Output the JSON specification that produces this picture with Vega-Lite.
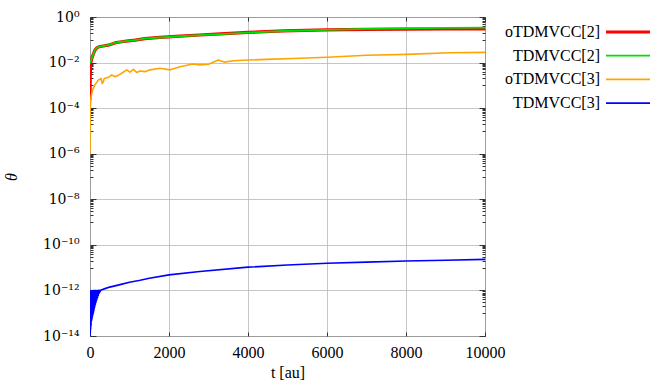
{
  "$schema": "https://vega.github.io/schema/vega-lite/v6.json",
  "autosize": "none",
  "padding": {"left": 90, "top": 17, "right": 179, "bottom": 52},
  "width": 395,
  "height": 319,
  "background": "white",
  "config": {
    "view": {"stroke": "#333", "strokeWidth": 1},
    "font": "Liberation Serif, Times New Roman, serif",
    "axis": {"labelFont": "Liberation Serif, Times New Roman, serif", "labelFontSize": 16, "labelColor": "black", "titleFont": "Liberation Serif, Times New Roman, serif", "titleFontSize": 16, "titleColor": "black", "titleFontWeight": "normal", "gridColor": "#b8b8b8", "gridWidth": 0.8, "domainColor": "#333", "tickColor": "#333"},
    "legend": {"labelFont": "Liberation Serif, Times New Roman, serif", "labelFontSize": 16, "labelColor": "black"}
  },
  "datasets": {
    "d": [
      {"s": "oTDMVCC[2]", "t": 0, "v": 2.3e-4},
      {"s": "oTDMVCC[2]", "t": 5, "v": 2e-3},
      {"s": "oTDMVCC[2]", "t": 15, "v": 8e-3},
      {"s": "oTDMVCC[2]", "t": 30, "v": 1.2e-2},
      {"s": "oTDMVCC[2]", "t": 60, "v": 1.8e-2},
      {"s": "oTDMVCC[2]", "t": 90, "v": 2.5e-2},
      {"s": "oTDMVCC[2]", "t": 125, "v": 3.5e-2},
      {"s": "oTDMVCC[2]", "t": 170, "v": 4.3e-2},
      {"s": "oTDMVCC[2]", "t": 210, "v": 4.8e-2},
      {"s": "oTDMVCC[2]", "t": 300, "v": 5.2e-2},
      {"s": "oTDMVCC[2]", "t": 460, "v": 5.8e-2},
      {"s": "oTDMVCC[2]", "t": 630, "v": 7.3e-2},
      {"s": "oTDMVCC[2]", "t": 800, "v": 8.2e-2},
      {"s": "oTDMVCC[2]", "t": 970, "v": 9.0e-2},
      {"s": "oTDMVCC[2]", "t": 1140, "v": 9.7e-2},
      {"s": "oTDMVCC[2]", "t": 1390, "v": 0.113},
      {"s": "oTDMVCC[2]", "t": 1770, "v": 0.128},
      {"s": "oTDMVCC[2]", "t": 2280, "v": 0.145},
      {"s": "oTDMVCC[2]", "t": 2780, "v": 0.162},
      {"s": "oTDMVCC[2]", "t": 3300, "v": 0.18},
      {"s": "oTDMVCC[2]", "t": 4000, "v": 0.21},
      {"s": "oTDMVCC[2]", "t": 4900, "v": 0.245},
      {"s": "oTDMVCC[2]", "t": 6000, "v": 0.27},
      {"s": "oTDMVCC[2]", "t": 7000, "v": 0.285},
      {"s": "oTDMVCC[2]", "t": 8000, "v": 0.295},
      {"s": "oTDMVCC[2]", "t": 9000, "v": 0.298},
      {"s": "oTDMVCC[2]", "t": 10000, "v": 0.30},

      {"s": "TDMVCC[2]", "t": 0, "v": 9.5e-3},
      {"s": "TDMVCC[2]", "t": 15, "v": 1.1e-2},
      {"s": "TDMVCC[2]", "t": 30, "v": 1.3e-2},
      {"s": "TDMVCC[2]", "t": 60, "v": 1.8e-2},
      {"s": "TDMVCC[2]", "t": 90, "v": 2.5e-2},
      {"s": "TDMVCC[2]", "t": 125, "v": 3.5e-2},
      {"s": "TDMVCC[2]", "t": 170, "v": 4.3e-2},
      {"s": "TDMVCC[2]", "t": 210, "v": 4.8e-2},
      {"s": "TDMVCC[2]", "t": 300, "v": 5.2e-2},
      {"s": "TDMVCC[2]", "t": 460, "v": 5.8e-2},
      {"s": "TDMVCC[2]", "t": 630, "v": 7.3e-2},
      {"s": "TDMVCC[2]", "t": 800, "v": 8.2e-2},
      {"s": "TDMVCC[2]", "t": 970, "v": 9.0e-2},
      {"s": "TDMVCC[2]", "t": 1140, "v": 9.7e-2},
      {"s": "TDMVCC[2]", "t": 1390, "v": 0.112},
      {"s": "TDMVCC[2]", "t": 1770, "v": 0.126},
      {"s": "TDMVCC[2]", "t": 2280, "v": 0.143},
      {"s": "TDMVCC[2]", "t": 2780, "v": 0.16},
      {"s": "TDMVCC[2]", "t": 3300, "v": 0.178},
      {"s": "TDMVCC[2]", "t": 4000, "v": 0.207},
      {"s": "TDMVCC[2]", "t": 4900, "v": 0.243},
      {"s": "TDMVCC[2]", "t": 6000, "v": 0.275},
      {"s": "TDMVCC[2]", "t": 7000, "v": 0.3},
      {"s": "TDMVCC[2]", "t": 8000, "v": 0.318},
      {"s": "TDMVCC[2]", "t": 9000, "v": 0.332},
      {"s": "TDMVCC[2]", "t": 10000, "v": 0.345},

      {"s": "oTDMVCC[3]", "t": 0, "v": 1e-6},
      {"s": "oTDMVCC[3]", "t": 5, "v": 1e-4},
      {"s": "oTDMVCC[3]", "t": 25, "v": 2.8e-4},
      {"s": "oTDMVCC[3]", "t": 60, "v": 6e-4},
      {"s": "oTDMVCC[3]", "t": 125, "v": 1.05e-3},
      {"s": "oTDMVCC[3]", "t": 210, "v": 1.7e-3},
      {"s": "oTDMVCC[3]", "t": 280, "v": 2.0e-3},
      {"s": "oTDMVCC[3]", "t": 310, "v": 1.2e-3},
      {"s": "oTDMVCC[3]", "t": 340, "v": 1.5e-3},
      {"s": "oTDMVCC[3]", "t": 360, "v": 2.0e-3},
      {"s": "oTDMVCC[3]", "t": 460, "v": 2.2e-3},
      {"s": "oTDMVCC[3]", "t": 550, "v": 2.9e-3},
      {"s": "oTDMVCC[3]", "t": 630, "v": 2.4e-3},
      {"s": "oTDMVCC[3]", "t": 720, "v": 2.8e-3},
      {"s": "oTDMVCC[3]", "t": 800, "v": 3.4e-3},
      {"s": "oTDMVCC[3]", "t": 930, "v": 4.8e-3},
      {"s": "oTDMVCC[3]", "t": 1010, "v": 3.8e-3},
      {"s": "oTDMVCC[3]", "t": 1100, "v": 5.0e-3},
      {"s": "oTDMVCC[3]", "t": 1180, "v": 3.7e-3},
      {"s": "oTDMVCC[3]", "t": 1270, "v": 4.3e-3},
      {"s": "oTDMVCC[3]", "t": 1390, "v": 4.0e-3},
      {"s": "oTDMVCC[3]", "t": 1520, "v": 4.8e-3},
      {"s": "oTDMVCC[3]", "t": 1770, "v": 5.6e-3},
      {"s": "oTDMVCC[3]", "t": 2030, "v": 4.8e-3},
      {"s": "oTDMVCC[3]", "t": 2280, "v": 6.6e-3},
      {"s": "oTDMVCC[3]", "t": 2600, "v": 8.7e-3},
      {"s": "oTDMVCC[3]", "t": 2780, "v": 7.9e-3},
      {"s": "oTDMVCC[3]", "t": 3000, "v": 8.5e-3},
      {"s": "oTDMVCC[3]", "t": 3250, "v": 1.29e-2},
      {"s": "oTDMVCC[3]", "t": 3400, "v": 1.05e-2},
      {"s": "oTDMVCC[3]", "t": 3630, "v": 1.2e-2},
      {"s": "oTDMVCC[3]", "t": 4000, "v": 1.29e-2},
      {"s": "oTDMVCC[3]", "t": 4470, "v": 1.38e-2},
      {"s": "oTDMVCC[3]", "t": 5320, "v": 1.55e-2},
      {"s": "oTDMVCC[3]", "t": 6000, "v": 1.7e-2},
      {"s": "oTDMVCC[3]", "t": 7000, "v": 2.1e-2},
      {"s": "oTDMVCC[3]", "t": 8000, "v": 2.3e-2},
      {"s": "oTDMVCC[3]", "t": 9110, "v": 2.7e-2},
      {"s": "oTDMVCC[3]", "t": 10000, "v": 2.8e-2},

      {"s": "TDMVCC[3]", "t": 0, "v": 1e-14},
      {"s": "TDMVCC[3]", "t": 4, "v": 9.5e-13},
      {"s": "TDMVCC[3]", "t": 8, "v": 1.4e-14},
      {"s": "TDMVCC[3]", "t": 12, "v": 9.5e-13},
      {"s": "TDMVCC[3]", "t": 16, "v": 2e-14},
      {"s": "TDMVCC[3]", "t": 20, "v": 9.5e-13},
      {"s": "TDMVCC[3]", "t": 26, "v": 2.8e-14},
      {"s": "TDMVCC[3]", "t": 32, "v": 9.6e-13},
      {"s": "TDMVCC[3]", "t": 38, "v": 4.5e-14},
      {"s": "TDMVCC[3]", "t": 44, "v": 9.6e-13},
      {"s": "TDMVCC[3]", "t": 50, "v": 5.6e-14},
      {"s": "TDMVCC[3]", "t": 56, "v": 9.7e-13},
      {"s": "TDMVCC[3]", "t": 62, "v": 7e-14},
      {"s": "TDMVCC[3]", "t": 68, "v": 9.7e-13},
      {"s": "TDMVCC[3]", "t": 74, "v": 8.9e-14},
      {"s": "TDMVCC[3]", "t": 80, "v": 9.8e-13},
      {"s": "TDMVCC[3]", "t": 88, "v": 1.1e-13},
      {"s": "TDMVCC[3]", "t": 96, "v": 9.8e-13},
      {"s": "TDMVCC[3]", "t": 104, "v": 1.4e-13},
      {"s": "TDMVCC[3]", "t": 112, "v": 9.9e-13},
      {"s": "TDMVCC[3]", "t": 120, "v": 1.9e-13},
      {"s": "TDMVCC[3]", "t": 128, "v": 9.9e-13},
      {"s": "TDMVCC[3]", "t": 136, "v": 2.4e-13},
      {"s": "TDMVCC[3]", "t": 144, "v": 1e-12},
      {"s": "TDMVCC[3]", "t": 152, "v": 3e-13},
      {"s": "TDMVCC[3]", "t": 160, "v": 1e-12},
      {"s": "TDMVCC[3]", "t": 170, "v": 3.8e-13},
      {"s": "TDMVCC[3]", "t": 180, "v": 1e-12},
      {"s": "TDMVCC[3]", "t": 190, "v": 4.8e-13},
      {"s": "TDMVCC[3]", "t": 200, "v": 1e-12},
      {"s": "TDMVCC[3]", "t": 210, "v": 6e-13},
      {"s": "TDMVCC[3]", "t": 220, "v": 1.01e-12},
      {"s": "TDMVCC[3]", "t": 232, "v": 7.6e-13},
      {"s": "TDMVCC[3]", "t": 244, "v": 1.01e-12},
      {"s": "TDMVCC[3]", "t": 256, "v": 8.7e-13},
      {"s": "TDMVCC[3]", "t": 268, "v": 1.02e-12},
      {"s": "TDMVCC[3]", "t": 300, "v": 1.08e-12},
      {"s": "TDMVCC[3]", "t": 380, "v": 1.2e-12},
      {"s": "TDMVCC[3]", "t": 500, "v": 1.4e-12},
      {"s": "TDMVCC[3]", "t": 760, "v": 1.8e-12},
      {"s": "TDMVCC[3]", "t": 1000, "v": 2.3e-12},
      {"s": "TDMVCC[3]", "t": 1270, "v": 2.8e-12},
      {"s": "TDMVCC[3]", "t": 1500, "v": 3.4e-12},
      {"s": "TDMVCC[3]", "t": 2000, "v": 4.8e-12},
      {"s": "TDMVCC[3]", "t": 2780, "v": 6.8e-12},
      {"s": "TDMVCC[3]", "t": 4000, "v": 1.05e-11},
      {"s": "TDMVCC[3]", "t": 5000, "v": 1.3e-11},
      {"s": "TDMVCC[3]", "t": 6000, "v": 1.55e-11},
      {"s": "TDMVCC[3]", "t": 7000, "v": 1.75e-11},
      {"s": "TDMVCC[3]", "t": 8000, "v": 1.95e-11},
      {"s": "TDMVCC[3]", "t": 9000, "v": 2.1e-11},
      {"s": "TDMVCC[3]", "t": 10000, "v": 2.3e-11}
    ]
  },
  "data": {"name": "d"},
  "encoding": {
    "x": {"field": "t", "type": "quantitative", "scale": {"domain": [0, 10000], "nice": false, "zero": false}},
    "y": {"field": "v", "type": "quantitative", "scale": {"type": "log", "domain": [1e-14, 1], "nice": false}},
    "color": {"field": "s", "type": "nominal", "scale": {"domain": ["oTDMVCC[2]", "TDMVCC[2]", "oTDMVCC[3]", "TDMVCC[3]"], "range": ["#ff0000", "#00e000", "#ffa500", "#0000ff"]},
      "legend": {"title": null, "orient": "none", "legendX": 530, "legendY": 7, "symbolType": "M-4,0H4", "symbolSize": 121, "labelAlign": "right", "labelOffset": -36, "rowPadding": 7.7, "padding": 0, "labelLimit": 300}},
    "strokeWidth": {"field": "s", "type": "nominal", "scale": {"type": "ordinal", "domain": ["oTDMVCC[2]", "TDMVCC[2]", "oTDMVCC[3]", "TDMVCC[3]"], "range": [3.2, 1.8, 1.6, 1.6]},
      "legend": {"title": null, "orient": "none", "legendX": 530, "legendY": 7, "symbolType": "M-4,0H4", "symbolSize": 121, "labelAlign": "right", "labelOffset": -36, "rowPadding": 7.7, "padding": 0, "labelLimit": 300}}
  },
  "layer": [
    {
      "transform": [{"filter": "datum.s == 'oTDMVCC[2]'"}],
      "mark": {"type": "line", "strokeJoin": "round", "clip": true},
      "encoding": {
        "x": {"field": "t", "type": "quantitative", "title": "t [au]",
          "axis": {"values": [0, 2000, 4000, 6000, 8000, 10000], "format": "d", "grid": true, "tickSize": -4, "labelPadding": 12, "titlePadding": 4, "domain": false, "labelFlush": false}},
        "y": {"field": "v", "type": "quantitative", "title": "θ",
          "axis": {"titleFontStyle": "italic", "titleAngle": -90, "titlePadding": 23, "labelPadding": 17, "labelFont": "DejaVu Serif", "labelFontSize": 14, "domain": false, "labelOverlap": false, "labelFlush": false,
            "values": [1, 0.1, 0.2, 0.3, 0.4, 0.5, 0.6, 0.7, 0.8, 0.9, 0.01, 0.001, 0.002, 0.003, 0.004, 0.005, 0.006, 0.007, 0.008, 0.009, 1e-4, 1e-5, 2e-5, 3e-5, 4e-5, 5e-5, 6e-5, 7e-5, 8e-5, 9e-5, 1e-6, 1e-7, 2e-7, 3e-7, 4e-7, 5e-7, 6e-7, 7e-7, 8e-7, 9e-7, 1e-8, 1e-9, 2e-9, 3e-9, 4e-9, 5e-9, 6e-9, 7e-9, 8e-9, 9e-9, 1e-10, 1e-11, 2e-11, 3e-11, 4e-11, 5e-11, 6e-11, 7e-11, 8e-11, 9e-11, 1e-12, 1e-13, 2e-13, 3e-13, 4e-13, 5e-13, 6e-13, 7e-13, 8e-13, 9e-13, 1e-14],
            "labelExpr": "datum.value == 1 ? '10⁰' : datum.value == 0.01 ? '10⁻²' : datum.value == 1e-4 ? '10⁻⁴' : datum.value == 1e-6 ? '10⁻⁶' : datum.value == 1e-8 ? '10⁻⁸' : datum.value == 1e-10 ? '10⁻¹⁰' : datum.value == 1e-12 ? '10⁻¹²' : datum.value == 1e-14 ? '10⁻¹⁴' : ''",
            "gridOpacity": {"condition": {"test": "datum.value == 1 || datum.value == 0.01 || datum.value == 1e-4 || datum.value == 1e-6 || datum.value == 1e-8 || datum.value == 1e-10 || datum.value == 1e-12 || datum.value == 1e-14", "value": 1}, "value": 0},
            "tickSize": {"condition": {"test": "datum.value == 1 || datum.value == 0.01 || datum.value == 1e-4 || datum.value == 1e-6 || datum.value == 1e-8 || datum.value == 1e-10 || datum.value == 1e-12 || datum.value == 1e-14", "value": -6}, "value": -3}
          }}
      }
    },
    {
      "transform": [{"filter": "datum.s == 'TDMVCC[2]'"}],
      "mark": {"type": "line", "strokeJoin": "round", "clip": true},
      "encoding": {
        "x": {"field": "t", "type": "quantitative", "axis": {"orient": "top", "values": [0, 2000, 4000, 6000, 8000, 10000], "labels": false, "grid": false, "tickSize": -4, "domain": false, "title": null}},
        "y": {"field": "v", "type": "quantitative", "axis": {"orient": "right", "labels": false, "grid": false, "domain": false, "title": null,
            "values": [1, 0.1, 0.2, 0.3, 0.4, 0.5, 0.6, 0.7, 0.8, 0.9, 0.01, 0.001, 0.002, 0.003, 0.004, 0.005, 0.006, 0.007, 0.008, 0.009, 1e-4, 1e-5, 2e-5, 3e-5, 4e-5, 5e-5, 6e-5, 7e-5, 8e-5, 9e-5, 1e-6, 1e-7, 2e-7, 3e-7, 4e-7, 5e-7, 6e-7, 7e-7, 8e-7, 9e-7, 1e-8, 1e-9, 2e-9, 3e-9, 4e-9, 5e-9, 6e-9, 7e-9, 8e-9, 9e-9, 1e-10, 1e-11, 2e-11, 3e-11, 4e-11, 5e-11, 6e-11, 7e-11, 8e-11, 9e-11, 1e-12, 1e-13, 2e-13, 3e-13, 4e-13, 5e-13, 6e-13, 7e-13, 8e-13, 9e-13, 1e-14],
            "tickSize": {"condition": {"test": "datum.value == 1 || datum.value == 0.01 || datum.value == 1e-4 || datum.value == 1e-6 || datum.value == 1e-8 || datum.value == 1e-10 || datum.value == 1e-12 || datum.value == 1e-14", "value": -6}, "value": -3}
          }}
      }
    },
    {
      "transform": [{"filter": "datum.s == 'oTDMVCC[3]'"}],
      "mark": {"type": "line", "strokeJoin": "round", "clip": true},
      "encoding": {
        "x": {"field": "t", "type": "quantitative", "axis": null},
        "y": {"field": "v", "type": "quantitative", "axis": null}
      }
    },
    {
      "transform": [{"filter": "datum.s == 'TDMVCC[3]'"}],
      "mark": {"type": "line", "strokeJoin": "round", "clip": true},
      "encoding": {
        "x": {"field": "t", "type": "quantitative", "axis": null},
        "y": {"field": "v", "type": "quantitative", "axis": null}
      }
    }
  ],
  "resolve": {"axis": {"x": "independent", "y": "independent"}}
}
